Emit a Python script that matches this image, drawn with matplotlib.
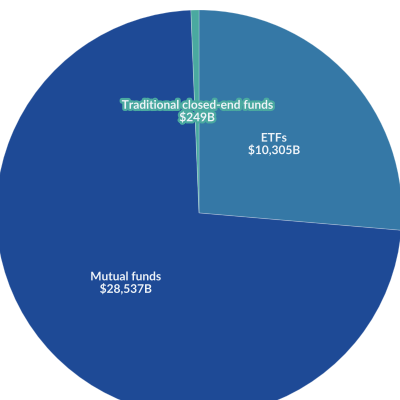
import matplotlib.pyplot as plt
import matplotlib.patheffects as pe

plt.rcParams['font.family'] = ['Lato', 'DejaVu Sans']

categories = ["ETFs", "Mutual funds", "Traditional closed-end funds"]
values = [10305, 28537, 249]
colors = ["#3578a6", "#1e4a96", "#4aa9a0"]

labels = [f"{c}\n${v:,}B" for c, v in zip(categories, values)]

fig = plt.figure(figsize=(4, 4), dpi=100)
ax = fig.add_axes([0, 0, 1, 1])

# pie centre sits at (199, 213) px, radius ~203 px
r_px = 203

wedges, texts = ax.pie(values, labels=labels, colors=colors, startangle=90,
                       counterclock=False, labeldistance=0.5, radius=1,
                       wedgeprops=dict(edgecolor=(1, 1, 1, 0.25), linewidth=0.6))

for t, c in zip(texts, colors):
    t.set_ha("center")
    t.set_va("center")
    t.set_fontsize(8.6)
    t.set_fontweight("bold")
    t.set_color("#eef3f8")
    t.set_linespacing(1.05)
    t.set_path_effects([pe.withStroke(linewidth=3.2, foreground=c)])

ax.set_xlim(-199 / r_px, 201 / r_px)
ax.set_ylim(-187 / r_px, 213 / r_px)
ax.set_aspect("equal")
ax.axis("off")

fig.savefig("out.png", dpi=100)
